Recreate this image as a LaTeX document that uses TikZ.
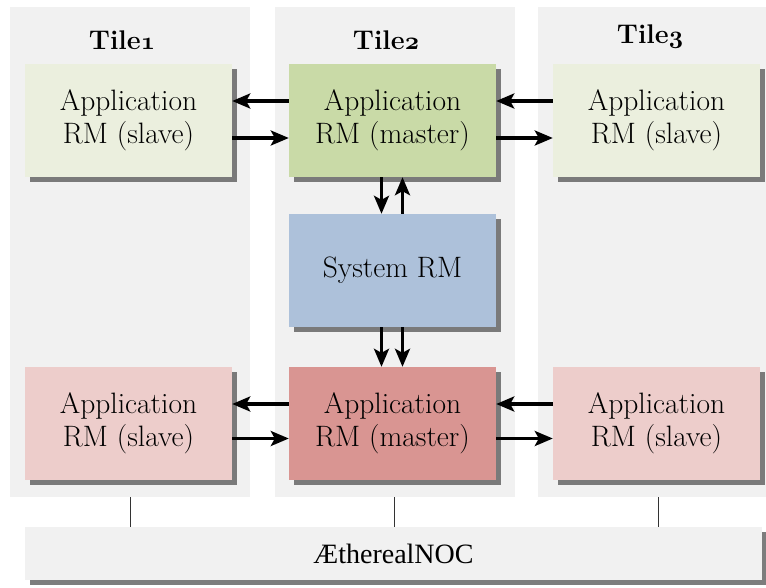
\documentclass[tikz,border=0pt]{standalone}
\usepackage{fontspec}
\newfontfamily\nocfont{Liberation Serif}
\usetikzlibrary{shadows,arrows.meta}
\definecolor{panelgray}{HTML}{F1F1F1}
\definecolor{slavegreen}{HTML}{EBEFDE}
\definecolor{mastergreen}{HTML}{C9DAA7}
\definecolor{sysblue}{HTML}{ADC1DA}
\definecolor{masterred}{HTML}{D99592}
\definecolor{slavered}{HTML}{EDCDCB}
\newcommand{\osnum}[1]{{\usefont{OML}{cmm}{b}{it}#1}}
\tikzset{
  panel/.style={fill=panelgray, draw=none, minimum width=240pt, minimum height=490pt, inner sep=0pt},
  rmbox/.style={draw=none, minimum width=207pt, minimum height=113pt, inner sep=0pt, align=center,
    font=\fontsize{29.5}{33}\selectfont,
    drop shadow={shadow xshift=4.5pt, shadow yshift=-4.5pt, fill=black!60, opacity=0.85}},
  tilelabel/.style={font=\fontsize{27}{32}\selectfont\bfseries, inner sep=0pt},
  arr/.style={-{Stealth[length=18pt,width=15pt,inset=4pt]}, line width=3.2pt},
  link/.style={line width=0.8pt, black!80}
}
\begin{document}
\begin{tikzpicture}[x=1pt,y=-1pt]
\useasboundingbox (0,0) rectangle (766,587);
% panels
\node[panel] (p1) at (130,252) {};
\node[panel] (p2) at (394.5,252) {};
\node[panel] (p3) at (658,252) {};
% tile labels
\node[tilelabel] (t1) at (122,40) {Tile\osnum{1}};
\node[tilelabel] (t2) at (386,40) {Tile\osnum{2}};
\node[tilelabel] (t3) at (650,37) {Tile\osnum{3}};
% boxes
\node[rmbox, fill=slavegreen] (s1) at (128.5,120.5) {Application\\RM (slave)};
\node[rmbox, fill=mastergreen] (m1) at (392.5,120.5) {Application\\RM (master)};
\node[rmbox, fill=slavegreen] (s3) at (656.5,120.5) {Application\\RM (slave)};
\node[rmbox, fill=sysblue] (sys) at (392.5,270.5) {System RM};
\node[rmbox, fill=slavered] (s1b) at (128.5,423.5) {Application\\RM (slave)};
\node[rmbox, fill=masterred] (m2) at (392.5,423.5) {Application\\RM (master)};
\node[rmbox, fill=slavered] (s3b) at (656.5,423.5) {Application\\RM (slave)};
% NoC
\node[draw=none, fill=panelgray, minimum width=737pt, minimum height=53pt, inner sep=0pt,
  font=\fontsize{28}{32}\selectfont\nocfont,
  drop shadow={shadow xshift=4.5pt, shadow yshift=-4.5pt, fill=black!60, opacity=0.85}] (noc) at (393.5,553.5) {ÆtherealNOC};
% links to NoC
\draw[link] (p1.south) -- (p1.south |- noc.north);
\draw[link] (p2.south) -- (p2.south |- noc.north);
\draw[link] (p3.south) -- (p3.south |- noc.north);
% horizontal arrows top
\draw[arr] ([yshift=19.5pt]m1.west) -- ([yshift=19.5pt]s1.east);
\draw[arr] ([yshift=-17.5pt]s1.east) -- ([yshift=-17.5pt]m1.west);
\draw[arr] ([yshift=19.5pt]s3.west) -- ([yshift=19.5pt]m1.east);
\draw[arr] ([yshift=-17.5pt]m1.east) -- ([yshift=-17.5pt]s3.west);
% horizontal arrows bottom
\draw[arr] ([yshift=19.5pt]m2.west) -- ([yshift=19.5pt]s1b.east);
\draw[arr] ([yshift=-15pt]s1b.east) -- ([yshift=-15pt]m2.west);
\draw[arr] ([yshift=19.5pt]s3b.west) -- ([yshift=19.5pt]m2.east);
\draw[arr] ([yshift=-15pt]m2.east) -- ([yshift=-15pt]s3b.west);
% vertical arrows
\draw[arr] ([xshift=-11pt]m1.south) -- ([xshift=-11pt]sys.north);
\draw[arr] ([xshift=10pt]sys.north) -- ([xshift=10pt]m1.south);
\draw[arr] ([xshift=-11pt]sys.south) -- ([xshift=-11pt]m2.north);
\draw[arr] ([xshift=10pt]sys.south) -- ([xshift=10pt]m2.north);
\end{tikzpicture}
\end{document}
